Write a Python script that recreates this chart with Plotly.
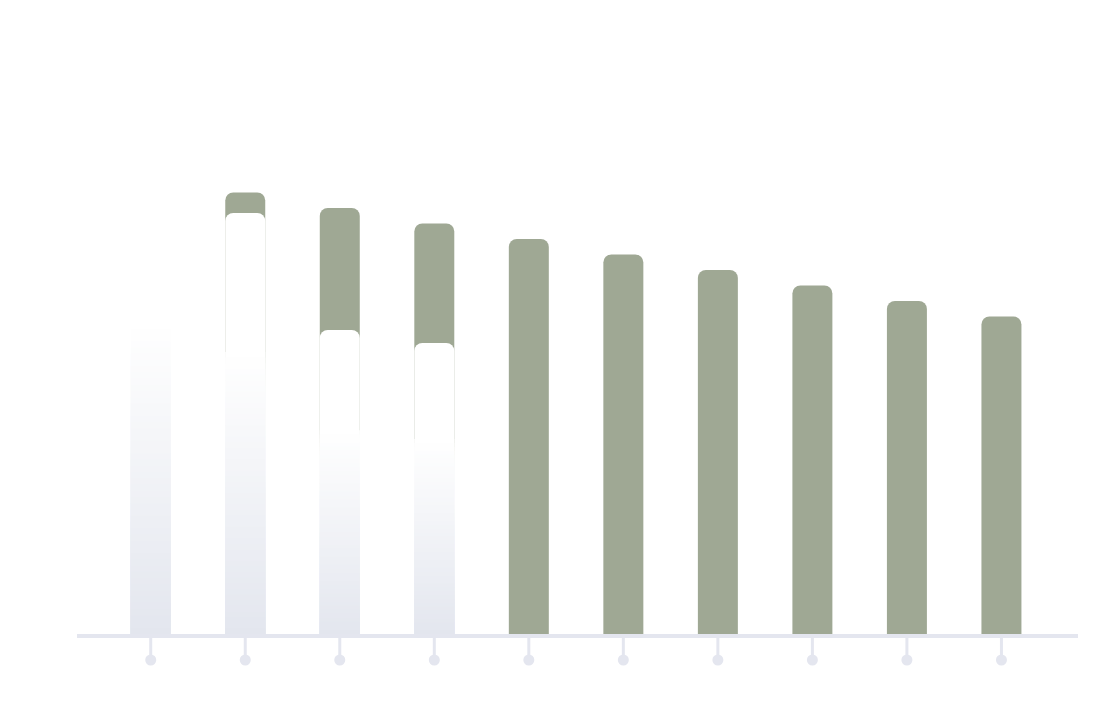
import plotly.graph_objects as go

# ---- data ----
categories = ["P1", "P2", "P3", "P4", "P5", "P6", "P7", "P8", "P9", "P10"]
projected = [None, 88.3, 85.2, 82.1, 79.0, 75.9, 72.8, 69.7, 66.6, 63.5]
actual_categories = ["P1", "P2", "P3", "P4"]
actual = [93.0, 84.2, 60.8, 58.2]

# ---- style ----
GREEN = "#9fa894"
LAVENDER = (227, 230, 238)
AXIS_COLOR = "#e4e6ef"
N_SEG = 50
WHITE_FRACTION = 0.33  # top part of each actual bar that stays white

PAGE_OFFSET = 8  # default body margin of the html page
Y_MAX, Y_MIN = 100, -10
PX_PER_UNIT = 5
ZERO_PX = 634 - PAGE_OFFSET          # y=0 position in figure pixels
TOP_PX = ZERO_PX - Y_MAX * PX_PER_UNIT
BOTTOM_PX = ZERO_PX - Y_MIN * PX_PER_UNIT
dot_y = -26 / PX_PER_UNIT

fig = go.Figure()

fig.add_trace(go.Bar(
    x=categories, y=projected,
    marker=dict(color=GREEN, line=dict(width=0), cornerradius=8),
    hoverinfo="skip", showlegend=False,
))

# actual bars: opaque white rounded bar, then a gradient built from
# nested bars (tallest first) that fade from white to lavender toward the base
fig.add_trace(go.Bar(
    x=actual_categories, y=actual, base=[0] * len(actual),
    marker=dict(color="white", line=dict(width=0), cornerradius=8),
    hoverinfo="skip", showlegend=False,
))
grad_top = 1 - WHITE_FRACTION
for i in range(N_SEG, 0, -1):
    hi = grad_top * i / N_SEG
    t = (i - 0.5) / N_SEG
    r = round(LAVENDER[0] + (255 - LAVENDER[0]) * t)
    g = round(LAVENDER[1] + (255 - LAVENDER[1]) * t)
    b = round(LAVENDER[2] + (255 - LAVENDER[2]) * t)
    col = f"rgb({r},{g},{b})"
    fig.add_trace(go.Bar(
        x=actual_categories, y=[v * hi for v in actual],
        marker=dict(color=col, line=dict(width=0)),
        hoverinfo="skip", showlegend=False,
    ))

# tick stems + dots under each category
fig.add_trace(go.Scatter(
    x=categories, y=[dot_y] * len(categories), mode="markers",
    marker=dict(size=11, color=AXIS_COLOR, line=dict(width=0)),
    error_y=dict(type="data", symmetric=False, array=[-dot_y] * len(categories),
                 arrayminus=[0] * len(categories), thickness=3, width=0, color=AXIS_COLOR),
    hoverinfo="skip", showlegend=False,
))

fig.update_layout(
    width=1101, height=722,
    margin=dict(l=77 - PAGE_OFFSET, r=23 + PAGE_OFFSET, t=TOP_PX, b=722 - BOTTOM_PX),
    paper_bgcolor="white", plot_bgcolor="white",
    barmode="overlay", bargap=0.577,
    xaxis=dict(
        type="category", categoryarray=categories, range=[-0.78, 9.81],
        visible=False, showgrid=False, zeroline=False, fixedrange=True,
    ),
    yaxis=dict(range=[Y_MIN, Y_MAX], visible=False, showgrid=False, zeroline=False),
    shapes=[dict(
        type="line", xref="paper", x0=0, x1=1,
        yref="y", ysizemode="pixel", yanchor=0, y0=-2, y1=-2,
        line=dict(color=AXIS_COLOR, width=4), layer="above",
    )],
)

fig.write_html("out.html")
